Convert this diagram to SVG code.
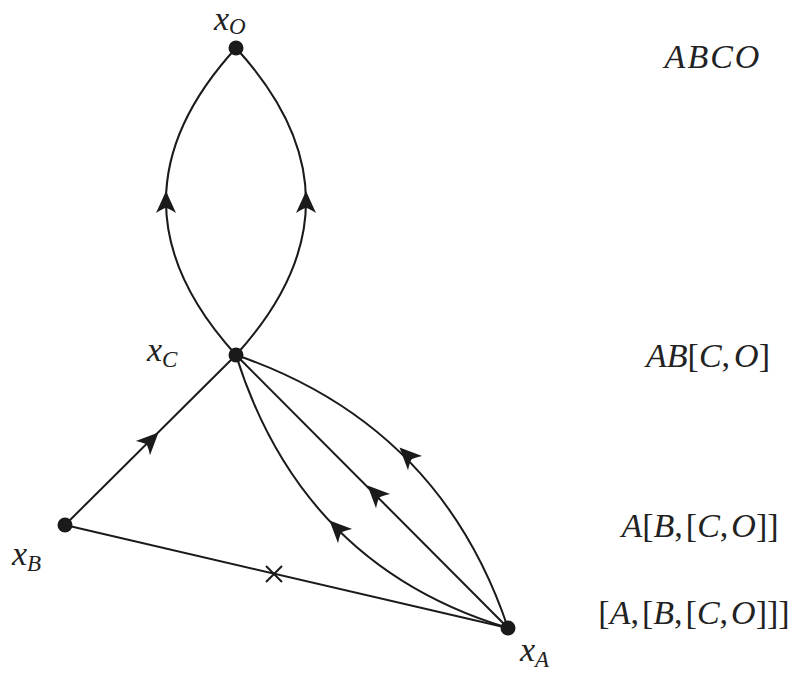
<svg xmlns="http://www.w3.org/2000/svg" xmlns:xlink="http://www.w3.org/1999/xlink" width="806" height="675" viewBox="0 0 806 675">
<style>
.edge{fill:none;stroke:#1a1a1a;stroke-width:2}
.dot{fill:#1a1a1a}
.arr{fill:#1a1a1a}
.lbl{font-family:'Liberation Serif','DejaVu Serif',serif;font-style:italic;font-size:34px;fill:#222}
.sub{font-size:23px}
.up{font-style:normal}
</style>
<defs>
<path id="ah" d="M12,0 L-10,-10 Q-5,-2 -5,0 Q-5,2 -10,10 Z"/>
</defs>
<rect width="806" height="675" fill="#fff"/>
<g id="connectors">
<path class="edge" d="M236,355 Q96,201 236,48"/>
<path class="edge" d="M236,355 Q376,201 236,48"/>
<path class="edge" d="M65,525 L236,355"/>
<path class="edge" d="M65,525 L508,628"/>
<path class="edge" d="M236,355 L508,628"/>
<path class="edge" d="M236,355 Q440,425 508,628"/>
<path class="edge" d="M236,355 Q302,566 508,628"/>
<use class="arr" xlink:href="#ah" transform="translate(166,203) rotate(-90)"/>
<use class="arr" xlink:href="#ah" transform="translate(306,203) rotate(-90)"/>
<use class="arr" xlink:href="#ah" transform="translate(150,441) rotate(-45)"/>
<use class="arr" xlink:href="#ah" transform="translate(376,494) rotate(-135)"/>
<use class="arr" xlink:href="#ah" transform="translate(408,456) rotate(-135)"/>
<use class="arr" xlink:href="#ah" transform="translate(338,529) rotate(-135)"/>
<path class="edge" d="M266,566 L282,582 M266,582 L282,566"/>
</g>
<g id="node-O">
<circle class="dot" cx="236" cy="48" r="7.5"/>
<text class="lbl" x="214" y="30">x<tspan class="sub" dy="4">O</tspan></text>
</g>
<g id="node-C">
<circle class="dot" cx="236" cy="355" r="7.5"/>
<text class="lbl" x="147" y="361">x<tspan class="sub" dy="6">C</tspan></text>
</g>
<g id="node-B">
<circle class="dot" cx="65" cy="525" r="7.5"/>
<text class="lbl" x="12" y="565">x<tspan class="sub" dy="6">B</tspan></text>
</g>
<g id="node-A">
<circle class="dot" cx="508" cy="628" r="7.5"/>
<text class="lbl" x="520" y="661">x<tspan class="sub" dy="6">A</tspan></text>
</g>
<g id="levels" text-anchor="middle">
<text class="lbl" x="713" y="68" letter-spacing="2">ABCO</text>
<text class="lbl" x="708" y="367">AB<tspan class="up">[</tspan>C<tspan class="up">,</tspan><tspan dx="4">O</tspan><tspan class="up">]</tspan></text>
<text class="lbl" x="700" y="537">A<tspan class="up">[</tspan>B<tspan class="up">,</tspan><tspan class="up" dx="3">[</tspan>C<tspan class="up">,</tspan><tspan dx="3">O</tspan><tspan class="up">]]</tspan></text>
<text class="lbl" x="694" y="624"><tspan class="up">[</tspan>A<tspan class="up">,</tspan><tspan class="up" dx="3">[</tspan>B<tspan class="up">,</tspan><tspan class="up" dx="3">[</tspan>C<tspan class="up">,</tspan><tspan dx="3">O</tspan><tspan class="up">]]]</tspan></text>
</g>
</svg>
